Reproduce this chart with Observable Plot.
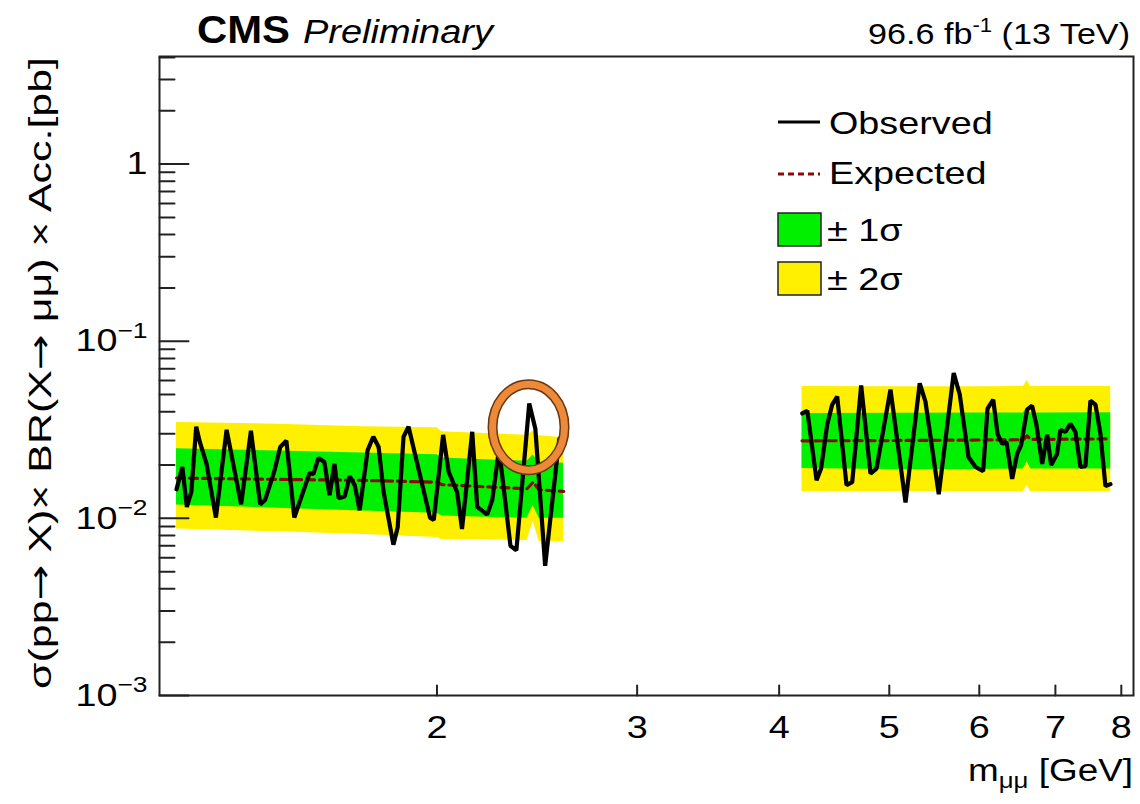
<!DOCTYPE html>
<html><head><meta charset="utf-8">
<script src="https://cdn.jsdelivr.net/npm/d3@7"></script>
<script src="https://cdn.jsdelivr.net/npm/@observablehq/plot@0.6"></script>
<style>body{margin:0;background:#fff} #chart{width:1140px;height:804px}</style>
</head><body><div id="chart"></div>
<script>
// ---- Data ----
const lowObsMass = [1.180,1.194,1.205,1.216,1.228,1.237,1.254,1.278,1.306,1.345,1.372,1.398,1.412,1.438,1.456,1.474,1.498,1.545,1.557,1.573,1.592,1.609,1.625,1.639,1.659,1.676,1.693,1.710,1.738,1.758,1.777,1.795,1.831,1.847,1.869,1.888,1.972,1.987,2.025,2.048,2.083,2.104,2.148,2.170,2.214,2.237,2.268,2.321,2.349,2.411,2.441,2.490,2.562,2.588];
const lowObsLimit = [0.0146,0.0195,0.0116,0.0141,0.0329,0.0270,0.0203,0.0101,0.0316,0.0120,0.0312,0.0120,0.0127,0.0183,0.0253,0.0274,0.0101,0.0180,0.0178,0.0219,0.0208,0.0135,0.0203,0.0130,0.0133,0.0173,0.0154,0.0111,0.0243,0.0289,0.0253,0.0141,0.0071,0.0089,0.0289,0.0329,0.0101,0.0098,0.0296,0.0183,0.0141,0.0087,0.0308,0.0116,0.0105,0.0127,0.0247,0.0070,0.0066,0.0445,0.0321,0.0054,0.0281,0.0300];
const highObsMass = [4.192,4.235,4.315,4.355,4.409,4.454,4.499,4.585,4.638,4.723,4.813,4.872,5.012,5.167,5.318,5.380,5.527,5.697,5.767,5.870,5.954,6.047,6.101,6.172,6.226,6.285,6.339,6.413,6.478,6.531,6.610,6.677,6.736,6.815,6.884,6.940,7.024,7.071,7.143,7.216,7.290,7.364,7.439,7.515,7.592,7.669,7.747,7.826];
const highObsLimit = [0.0391,0.0405,0.0164,0.0191,0.0338,0.0439,0.0487,0.0154,0.0160,0.0562,0.0179,0.0191,0.0534,0.0123,0.0579,0.0456,0.0137,0.0661,0.0500,0.0222,0.0195,0.0185,0.0416,0.0468,0.0300,0.0263,0.0270,0.0167,0.0231,0.0260,0.0411,0.0433,0.0338,0.0203,0.0296,0.0200,0.0231,0.0316,0.0308,0.0342,0.0308,0.0195,0.0197,0.0462,0.0439,0.0300,0.0152,0.0156];

const lowBandMass = [1.18, 1.45, 1.72, 2.0, 2.02, 2.40, 2.43, 2.46, 2.585];
const lowExp      = [0.0169,0.0166,0.0164,0.0160,0.0155,0.0147,0.0160,0.0145,0.0142];
const lowPlus1    = [0.0247,0.0240,0.0234,0.0229,0.0219,0.0210,0.0228,0.0208,0.0205];
const lowMinus1   = [0.0119,0.0114,0.0110,0.0107,0.0103,0.0100,0.0118,0.0100,0.0100];
const lowPlus2    = [0.0348,0.0340,0.0329,0.0325,0.0308,0.0295,0.0310,0.0293,0.0285];
const lowMinus2   = [0.0087,0.0084,0.0081,0.0078,0.0076,0.0075,0.0096,0.0074,0.0074];

const highBandMass = [4.19, 5.0, 6.0, 6.56, 6.61, 6.66, 7.83];
const highExp      = [0.0274,0.0275,0.0277,0.0278,0.0292,0.0279,0.0281];
const highPlus1    = [0.0391,0.0392,0.0393,0.0394,0.0420,0.0394,0.0395];
const highMinus1   = [0.0191,0.0189,0.0189,0.0190,0.0209,0.0190,0.0190];
const highPlus2    = [0.0555,0.0553,0.0553,0.0555,0.0600,0.0555,0.0555];
const highMinus2   = [0.0142,0.0141,0.0141,0.0141,0.0154,0.0141,0.0141];

const xTicks = [2, 3, 4, 5, 6, 7, 8];
const yMajorTicks = [0.001, 0.01, 0.1, 1];
const yMinorMultipliers = [2, 3, 4, 5, 6, 7, 8, 9];
const xDomain = [1.14, 8.2];
const yDomain = [0.001, 4.05];
const highlight = [{m: 2.41, v: 0.0325}];

const legendLabels = ["Observed", "Expected", "\u00b1 1\u03c3", "\u00b1 2\u03c3"];

// ---- tables ----
const obs = (M, V) => M.map((m, i) => ({m, v: V[i]}));
const band = (M, e, p1, m1, p2, m2) => M.map((m, i) => ({m, exp: e[i], hi1: p1[i], lo1: m1[i], hi2: p2[i], lo2: m2[i]}));
const lowObs = obs(lowObsMass, lowObsLimit), highObs = obs(highObsMass, highObsLimit);
const lowBand = band(lowBandMass, lowExp, lowPlus1, lowMinus1, lowPlus2, lowMinus2);
const highBand = band(highBandMass, highExp, highPlus1, highMinus1, highPlus2, highMinus2);
const yMinorTicks = yMajorTicks.flatMap(d => yMinorMultipliers.map(k => k * d)).filter(v => v <= yDomain[1]);

const YELLOW = "#fff000", GREEN = "#00f000", EXPC = "#8a0a0a", AX = "#222";
const tickRight = {draw(ctx, l) { ctx.moveTo(0, 0); ctx.lineTo(l, 0); }};
const tickUp = {draw(ctx, l) { ctx.moveTo(0, 0); ctx.lineTo(0, -l); }};
const supFmt = d => d === 1 ? "1" : "10^\u2212" + Math.round(-Math.log10(d));

const bandMarks = (B) => [
  Plot.areaY(B, {x: "m", y1: "lo2", y2: "hi2", fill: YELLOW, curve: "linear"}),
  Plot.areaY(B, {x: "m", y1: "lo1", y2: "hi1", fill: GREEN, curve: "linear"}),
  Plot.line(B, {x: "m", y: "exp", stroke: EXPC, strokeWidth: 3.2, strokeDasharray: "8,5"})
];

const plot = Plot.plot({
  width: 1140, height: 804,
  marginLeft: 159, marginRight: 7, marginTop: 56, marginBottom: 109,
  style: {fontFamily: "'Liberation Sans', Arial, Helvetica, sans-serif", background: "#fff", color: "#000"},
  x: {type: "log", domain: xDomain},
  y: {type: "log", domain: yDomain},
  marks: [
    ...bandMarks(lowBand), ...bandMarks(highBand),
    Plot.line(lowObs, {x: "m", y: "v", stroke: "#000", strokeWidth: 4.2, strokeLinejoin: "miter"}),
    Plot.line(highObs, {x: "m", y: "v", stroke: "#000", strokeWidth: 4.2, strokeLinejoin: "miter"}),
    Plot.axisX({ticks: xTicks, tickSize: 0, tickPadding: 20, fontSize: 32, tickFormat: d => String(d), label: null}),
    Plot.axisY({ticks: yMajorTicks, tickSize: 0, tickPadding: 12, fontSize: 32, tickFormat: supFmt, label: null}),
    Plot.vector(yMajorTicks, {y: d => d, frameAnchor: "left", length: 29, anchor: "start", shape: tickRight, stroke: AX, strokeWidth: 2}),
    Plot.vector(yMinorTicks, {y: d => d, frameAnchor: "left", length: 15, anchor: "start", shape: tickRight, stroke: AX, strokeWidth: 2}),
    Plot.vector(xTicks, {x: d => d, frameAnchor: "bottom", length: 10, anchor: "start", shape: tickUp, stroke: AX, strokeWidth: 2}),
    Plot.frame({stroke: AX, strokeWidth: 2})
  ]
});
document.getElementById("chart").appendChild(plot);

const svg = d3.select(plot);
const FONT = "'Liberation Sans', Arial, Helvetica, sans-serif";
const STRETCH = 1.18;
function stretch(node, factor, fixed) {
  const len = node.getComputedTextLength();
  node.setAttribute("textLength", fixed != null ? fixed : len * factor);
  node.setAttribute("lengthAdjust", "spacingAndGlyphs");
}

// superscripts in y tick labels
svg.selectAll('g[aria-label="y-axis tick label"] text').each(function() {
  const t = d3.select(this), s = t.text();
  if (s.includes("^")) {
    const [b, e] = s.split("^");
    t.text(null);
    t.append("tspan").text(b);
    t.append("tspan").attr("dy", "-0.6em").attr("font-size", "0.7em").text(e);
  }
  stretch(this, STRETCH);
});
svg.selectAll('g[aria-label="x-axis tick label"] text').each(function() { stretch(this, STRETCH); });

// highlight ellipse (annotation)
const sx = plot.scale("x"), sy = plot.scale("y");
const ann = svg.append("g");
highlight.forEach(h => {
  const cx = sx.apply(h.m), cy = sy.apply(h.v);
  ann.append("ellipse").attr("cx", cx).attr("cy", cy).attr("rx", 36).attr("ry", 43)
    .attr("fill", "none").attr("stroke", "#6b3410").attr("stroke-width", 10);
  ann.append("ellipse").attr("cx", cx).attr("cy", cy).attr("rx", 36).attr("ry", 43)
    .attr("fill", "none").attr("stroke", "#ec8a3a").attr("stroke-width", 7);
});

// texts
const g = svg.append("g").attr("font-family", FONT).attr("fill", "#000").attr("text-anchor", "start");
const cms = g.append("text").attr("x", 197).attr("y", 43).attr("font-size", 38).attr("font-weight", "bold").attr("text-anchor", "start").text("CMS");
stretch(cms.node(), 0, 93);
const prel = g.append("text").attr("x", 303).attr("y", 43).attr("font-size", 33).attr("font-style", "italic").attr("text-anchor", "start").text("Preliminary");
stretch(prel.node(), 0, 190);
const lumi = g.append("text").attr("x", 1130).attr("y", 44).attr("font-size", 30).attr("text-anchor", "end");
lumi.append("tspan").text("96.6 fb");
lumi.append("tspan").attr("dy", "-0.6em").attr("font-size", "0.65em").text("-1");
lumi.append("tspan").attr("dy", "0.39em").text(" (13 TeV)");
stretch(lumi.node(), 0, 262);

const xl = g.append("text").attr("x", 1133).attr("y", 781).attr("font-size", 31).attr("text-anchor", "end");
xl.append("tspan").text("m");
xl.append("tspan").attr("dy", "0.3em").attr("font-size", "0.7em").text("\u03bc\u03bc");
xl.append("tspan").attr("dy", "-0.21em").text(" [GeV]");
stretch(xl.node(), 0, 165);

const yl = g.append("text").attr("transform", "translate(51,57) rotate(-90)").attr("font-size", 32).attr("text-anchor", "end");
yl.append("tspan").text("\u03c3(pp");
yl.append("tspan").attr("font-family", "'DejaVu Sans', sans-serif").text("\u2192");
yl.append("tspan").text(" X)\u00d7 BR(X");
yl.append("tspan").attr("font-family", "'DejaVu Sans', sans-serif").text("\u2192");
yl.append("tspan").text(" \u03bc\u03bc) \u00d7 Acc.[pb]");
stretch(yl.node(), 0, 632);

// legend
const L = g.append("g");
L.append("line").attr("x1", 778).attr("x2", 820).attr("y1", 122).attr("y2", 122).attr("stroke", "#000").attr("stroke-width", 3);
L.append("line").attr("x1", 778).attr("x2", 820).attr("y1", 174).attr("y2", 174).attr("stroke", EXPC).attr("stroke-width", 3).attr("stroke-dasharray", "6,4");
L.append("rect").attr("x", 778).attr("y", 213).attr("width", 43).attr("height", 33).attr("fill", GREEN).attr("stroke", "#222").attr("stroke-width", 1.5);
L.append("rect").attr("x", 778).attr("y", 262).attr("width", 43).attr("height", 33).attr("fill", YELLOW).attr("stroke", "#222").attr("stroke-width", 1.5);
const lx = [829, 829, 827, 827], ly = [134, 184, 241, 290];
legendLabels.forEach((s, i) => {
  const t = L.append("text").attr("x", lx[i]).attr("y", ly[i]).attr("font-size", 32).attr("text-anchor", "start").text(s);
  stretch(t.node(), STRETCH);
});
</script></body></html>
